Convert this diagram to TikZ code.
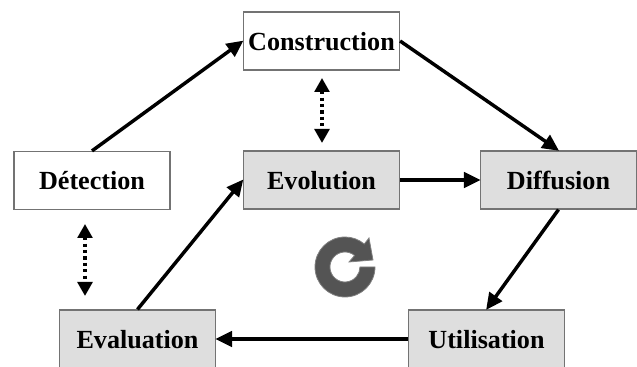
\documentclass[tikz,border=0pt]{standalone}
\usepackage{fontspec}
\setmainfont{Liberation Serif}
\usetikzlibrary{arrows.meta}
\tikzset{
  x=0.75pt,y=0.75pt,
  stagebox/.style={draw=black!55,line width=0.9pt,inner sep=0pt,minimum width=117pt,minimum height=43.5pt,text height=14.2pt,text depth=0pt,font=\fontsize{19.6pt}{21pt}\selectfont\bfseries,text=black},
  plainbox/.style={stagebox,fill=white},
  greybox/.style={stagebox,fill=black!13},
  flow/.style={-{Triangle[length=12.5pt,width=11.5pt]},line width=2.6pt,black,shorten >=-0.5pt},
  link/.style={{Triangle[length=10.5pt,width=11pt]}-{Triangle[length=10.5pt,width=11pt]},line width=3pt,black,dash pattern=on 2.4pt off 2.4pt},
}
\begin{document}
\begin{tikzpicture}
\useasboundingbox (0,0) rectangle (637,367);
\node[plainbox] (con) at (321.5,326) {Construction};
\node[plainbox] (det) at (92,186.5) {Détection};
\node[greybox] (evo) at (321.5,187) {Evolution};
\node[greybox] (dif) at (558.5,187) {Diffusion};
\node[greybox] (uti) at (486.5,28) {Utilisation};
\node[greybox] (eva) at (137.5,28) {Evaluation};
\draw[flow] (det.north) -- (con.west);
\draw[flow] (con.east) -- (dif.north);
\draw[flow] (evo.east) -- (dif.west);
\draw[flow] (dif.south) -- (uti.north);
\draw[flow] (uti.west) -- (eva.east);
\draw[flow] (eva.north) -- (evo.west);
\coordinate (a1) at (322,289);
\coordinate (a2) at (322,224);
\coordinate (b1) at (85,143);
\coordinate (b2) at (85,71);
\draw[link] (a1) -- (a2);
\draw[link] (b1) -- (b2);
\draw[fill=black!67,draw=black!50,line width=0.6pt]
  (375,100) arc[start angle=0,end angle=-310,radius=30]
  -- (369,129) -- (373,107) -- (349,105) -- (354.6,111.5)
  arc[start angle=50,end angle=360,radius=15] -- cycle;
\end{tikzpicture}
\end{document}
